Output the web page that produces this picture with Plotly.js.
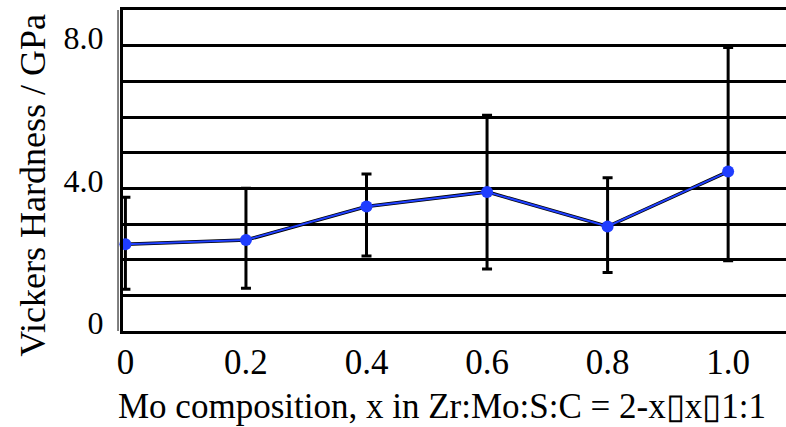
<!DOCTYPE html>
<html>
<head>
<meta charset="utf-8">
<script src="https://cdn.plot.ly/plotly-3.0.1.min.js"></script>
<style>html,body{margin:0;padding:0;background:#fff;}#chart{width:786px;height:427px;}</style>
</head>
<body>
<div id="chart"></div>
<script>
// Data
const moComposition = [0, 0.2, 0.4, 0.6, 0.8, 1.0];
const hardness      = [2.43, 2.55, 3.49, 3.9, 2.93, 4.47];
const errUpper      = [3.75, 4.0, 4.4, 6.05, 4.3, 7.95];
const errLower      = [1.17, 1.2, 2.1, 1.74, 1.64, 1.97];
const xTickVals  = [0, 0.2, 0.4, 0.6, 0.8, 1.0];
const xTickText  = ['0', '0.2', '0.4', '0.6', '0.8', '1.0'];
const yTickVals  = [0, 1, 2, 3, 4, 5, 6, 7, 8, 9];
const yTickText  = ['0', '', '', '', '4.0', '', '', '', '8.0', ''];
const xTitle = 'Mo composition, x in Zr:Mo:S:C = 2-x\u25AFx\u25AF1:1';
const yTitle = 'Vickers Hardness / GPa';

const plus  = hardness.map((v, i) => errUpper[i] - v);
const minus = hardness.map((v, i) => v - errLower[i]);

const shadow = {
  x: moComposition, y: hardness,
  type: 'scatter', mode: 'lines', cliponaxis: false,
  line: {color: '#000', width: 3.5},
  showlegend: false, hoverinfo: 'skip'
};

const trace = {
  x: moComposition,
  y: hardness,
  type: 'scatter',
  mode: 'lines+markers',
  cliponaxis: false,
  line: {color: '#2040ff', width: 2},
  marker: {color: '#1f3dff', size: 12},
  error_y: {
    type: 'data', symmetric: false,
    array: plus, arrayminus: minus,
    color: '#000', thickness: 3, width: 5
  },
  showlegend: false,
  hoverinfo: 'skip'
};

const font = 'Liberation Serif, Times New Roman, serif';
const layout = {
  width: 786, height: 427,
  margin: {l: 123, r: 0, t: 10, b: 96},
  paper_bgcolor: '#fff', plot_bgcolor: '#fff',
  font: {family: font, color: '#000'},
  xaxis: {
    range: [-0.004, 1.096],
    tickvals: xTickVals, ticktext: xTickText,
    showgrid: false, zeroline: false,
    showline: true, linecolor: '#000', linewidth: 3, mirror: true,
    ticks: '', ticklabelstandoff: -2,
    tickfont: {family: font, size: 35, color: '#000'}
  },
  yaxis: {
    range: [0, 9],
    tickvals: yTickVals, ticktext: yTickText,
    showgrid: true, gridcolor: '#000', gridwidth: 3,
    zeroline: false,
    showline: true, linecolor: '#000', linewidth: 3,
    ticks: '', ticklabelstandoff: 10, ticklabelshift: -8,
    tickfont: {family: font, size: 32, color: '#000'}
  },
  annotations: [
    {text: xTitle, xref: 'paper', yref: 'paper', x: 0.481, y: -0.234,
     xanchor: 'center', yanchor: 'middle', showarrow: false,
     font: {family: font, size: 35, color: '#000'}},
    {text: yTitle, xref: 'paper', yref: 'paper', x: -0.136, y: 0.455,
     xanchor: 'center', yanchor: 'middle', showarrow: false, textangle: -90,
     font: {family: font, size: 36, color: '#000'}}
  ],
  shapes: [{
    type: 'line', xref: 'paper', yref: 'paper',
    x0: -0.0075, x1: -0.0075, y0: 0, y1: 1,
    line: {color: '#000', width: 1}
  }]
};

Plotly.newPlot('chart', [shadow, trace], layout, {displayModeBar: false, staticPlot: true});
</script>
</body>
</html>
